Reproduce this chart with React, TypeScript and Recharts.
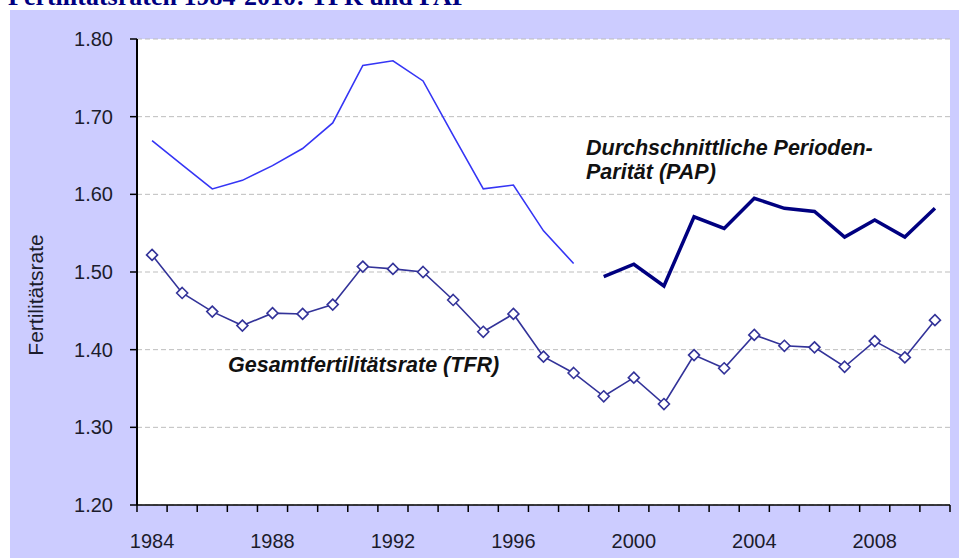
import { LineChart, Line, XAxis, YAxis, CartesianGrid } from "recharts";

const YEARS = ["1984", "1985", "1986", "1987", "1988", "1989", "1990", "1991", "1992", "1993", "1994", "1995", "1996", "1997", "1998", "1999", "2000", "2001", "2002", "2003", "2004", "2005", "2006", "2007", "2008", "2009", "2010"];
const TFR = [1.522, 1.473, 1.449, 1.431, 1.447, 1.446, 1.458, 1.507, 1.504, 1.5, 1.464, 1.423, 1.446, 1.391, 1.37, 1.34, 1.364, 1.33, 1.393, 1.376, 1.419, 1.405, 1.403, 1.378, 1.411, 1.39, 1.438];
const PAP_EARLY = [1.669, 1.638, 1.607, 1.618, 1.637, 1.659, 1.692, 1.766, 1.772, 1.746, 1.676, 1.607, 1.612, 1.553, 1.511, null, null, null, null, null, null, null, null, null, null, null, null];
const PAP_LATE = [null, null, null, null, null, null, null, null, null, null, null, null, null, null, null, 1.494, 1.51, 1.482, 1.571, 1.556, 1.595, 1.582, 1.578, 1.545, 1.567, 1.545, 1.582];
const Y_TICKS = [1.2, 1.3, 1.4, 1.5, 1.6, 1.7, 1.8];
const LABEL_YEARS = ["1984", "1988", "1992", "1996", "2000", "2004", "2008"];

const data = YEARS.map((year, i) => ({ year, tfr: TFR[i], papEarly: PAP_EARLY[i], papLate: PAP_LATE[i] }));

const SANS = "'Liberation Sans', Arial, sans-serif";
const INK = "#1c1c2c";

function YearTick(props: any) {
  const { x, y, payload, index } = props;
  const half = payload?.offset ?? 15;
  return (
    <g>
      <line x1={x - half} x2={x - half} y1={y} y2={y + 7} stroke="#000" strokeWidth={1.5} />
      {index === YEARS.length - 1 && <line x1={x + half} x2={x + half} y1={y} y2={y + 7} stroke="#000" strokeWidth={1.5} />}
      {LABEL_YEARS.includes(payload.value) && (
        <text x={x} y={y + 43} textAnchor="middle" fill={INK} fontSize={20} fontFamily={SANS}>{payload.value}</text>
      )}
    </g>
  );
}

function Diamond(props: any) {
  const { cx, cy } = props;
  if (cx == null || cy == null) return null;
  const r = 5.5;
  return <path d={`M${cx},${cy - r}L${cx + r},${cy}L${cx},${cy + r}L${cx - r},${cy}Z`} fill="#fff" stroke="#333399" strokeWidth={1.6} />;
}

export default function App() {
  return (
    <div style={{ position: "absolute", left: 0, top: 0, width: 959, height: 558, overflow: "hidden", background: "#fff" }}>
      <div style={{ position: "absolute", left: 10, top: 10, width: 949, height: 548, background: "#ccccff" }}>
        <LineChart width={949} height={548} data={data} margin={{ top: 29, right: 9, bottom: 0, left: 67 }}>
          <CartesianGrid vertical={false} stroke="#bdbdbd" strokeDasharray="5 3" fill="#fff" />
          <XAxis dataKey="year" scale="band" interval={0} height={53} tickSize={0} tickMargin={0} tickLine={false}
            axisLine={{ stroke: "#000", strokeWidth: 1.5 }} tick={<YearTick />} />
          <YAxis domain={[1.2, 1.8]} ticks={Y_TICKS} width={60} tickSize={7} tickMargin={17}
            tickFormatter={(v: number) => v.toFixed(2)}
            axisLine={{ stroke: "#000", strokeWidth: 2 }} tickLine={{ stroke: "#000", strokeWidth: 1.5 }}
            tick={{ fill: INK, fontSize: 20, fontFamily: SANS }} />
          <Line dataKey="papEarly" stroke="#3535f5" strokeWidth={1.6} dot={false} isAnimationActive={false} />
          <Line dataKey="papLate" stroke="#000080" strokeWidth={3.5} dot={false} isAnimationActive={false} />
          <Line dataKey="tfr" stroke="#333399" strokeWidth={1.6} dot={<Diamond />} isAnimationActive={false} />
        </LineChart>
      </div>
      <svg width={959} height={558} style={{ position: "absolute", left: 0, top: 0, pointerEvents: "none" }}>
        <text x={8} y={5} fill="#000080" fontSize={26} fontWeight="bold" fontFamily="'Liberation Serif', 'Times New Roman', serif">Fertilitätsraten 1984-2010: TFR und PAP</text>
        <text transform="translate(43,295) rotate(-90)" textAnchor="middle" fill={INK} fontSize={21} fontFamily={SANS}>Fertilitätsrate</text>
        <g fill="#111" fontSize={21.5} fontStyle="italic" fontWeight="bold" fontFamily={SANS}>
          <text x={586} y={155}>Durchschnittliche Perioden-</text>
          <text x={586} y={179}>Parität (PAP)</text>
          <text x={228} y={372}>Gesamtfertilitätsrate (TFR)</text>
        </g>
      </svg>
    </div>
  );
}
